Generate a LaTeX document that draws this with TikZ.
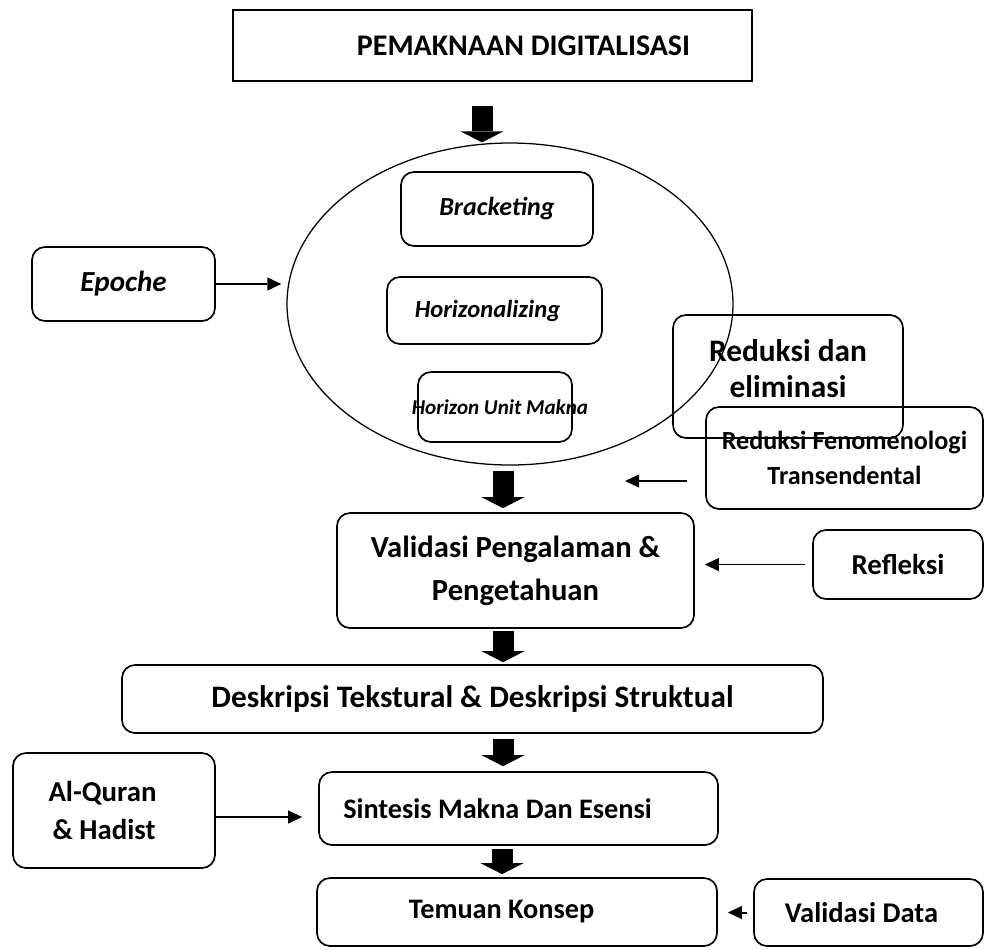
\documentclass[tikz,border=0pt]{standalone}
\usepackage{fontspec}
\setmainfont{Carlito}
\usetikzlibrary{shapes.geometric, arrows.meta, positioning}
\newlength\pxu
\setlength\pxu{0.025cm}

\begin{document}
\begin{tikzpicture}[x=0.025cm, y=-0.025cm,
	every node/.style={inner sep=0pt, font=\bfseries\fontsize{20.5}{30.6}\selectfont},
	box/.style 2 args={draw, line width=1.2pt, rounded corners=0.325cm, minimum width=#1\pxu, minimum height=#2\pxu, align=center},
	sized/.style={font=\bfseries\fontsize{#1}{30.6}\selectfont},
	slanted/.style={font=\bfseries\itshape\fontsize{#1}{22}\selectfont},
	bigarrow/.style={line width=0.525cm, -{Triangle[length=0.275cm, width=1.075cm, line width=0pt]}},
	thinarrow/.style={line width=1.4pt, -{Triangle[length=0.35cm, width=0.33cm, line width=0pt]}}]
	\useasboundingbox (0,0) rectangle (984,949);
	% head and the ring of epoche steps
	\node[draw, line width=1.2pt, minimum width=519\pxu, minimum height=71\pxu, sized=21.3] (top) at (492.5,45.5) {\hspace*{62\pxu}PEMAKNAAN DIGITALISASI};
	\node[draw, ellipse, line width=0.9pt, minimum width=446\pxu, minimum height=322\pxu] (ring) at (510,304) {};
	\node[box={192}{74}, slanted=18.5] (brack) at (497,209) {Bracketing};
	\node[box={215}{67}, slanted=17.5] (horiz) at (494.5,310.5) {Horizonalizing\hspace*{14\pxu}};
	\node[box={154}{70}, slanted=15] (unit) at (495,407) {\makebox[0pt]{\hspace*{10\pxu}Horizon Unit Makna}};
	\node[box={183}{74}, slanted=20.7] (epoche) at (123.5,284) {Epoche};
	\node[box={230}{123}, font=\bfseries\fontsize{22.3}{25}\selectfont] (redel) at (788,376.5) {Reduksi dan\\eliminasi\\[-13.6pt]\mbox{}};
	\node[box={277}{102}, font=\bfseries\fontsize{18.6}{25}\selectfont] (redfen) at (844.5,458) {Reduksi Fenomenologi\\Transendental};
	% main column
	\node[box={357}{115}, sized=21.8] (valid) at (515.5,570.5) {Validasi Pengalaman \&\\Pengetahuan};
	\node[box={170}{69}] (refl) at (898,564.5) {Refleksi};
	\node[box={701}{68}, sized=22.2] (desk) at (472.5,699) {Deskripsi Tekstural \& Deskripsi Struktual};
	\node[box={202}{115}, align=left, font=\bfseries\fontsize{20.5}{27}\selectfont] (alq) at (114,810.5) {Al-Quran\\\hspace*{4\pxu}\& Hadist\hspace*{24\pxu}};
	\node[box={399}{73}, sized=20.1] (sint) at (518.5,808.5) {Sintesis Makna Dan Esensi\hspace*{42\pxu}};
	\node[box={400}{68}, sized=20.1] (temu) at (517,912) {Temuan Konsep\hspace*{31\pxu}};
	\node[box={229}{67}, sized=20.3] (vdata) at (868.5,912.5) {Validasi Data\hspace*{14\pxu}};
	\coordinate (fenTip) at (625,481);
	% block arrows down the middle
	\draw[bigarrow, shorten <=0.6cm] (top.south -| 482,0) -- (ring.north -| 482,0);
	\draw[bigarrow, shorten <=0.125cm, shorten >=0.1cm] (ring.south -| 503,0) -- (valid.north -| 503,0);
	\draw[bigarrow, shorten <=0.05cm, shorten >=0.05cm] (valid.south -| 503,0) -- (desk.north -| 503,0);
	\draw[bigarrow, shorten <=0.125cm, shorten >=0.125cm] (desk.south -| 503,0) -- (sint.north -| 503,0);
	\draw[bigarrow, shorten <=0.075cm, shorten >=0.075cm] (sint.south -| 502,0) -- (temu.north -| 502,0);
	% side inputs
	\draw[thinarrow, shorten >=0.125cm] (epoche.east) -- (ring.west |- epoche.east);
	\draw[thinarrow, shorten <=0.45cm] (redfen.west |- fenTip) -- (fenTip);
	\draw[thinarrow, shorten <=0.175cm, shorten >=0.25cm] (refl.west) -- (valid.east |- refl.west);
	\draw[thinarrow, shorten >=0.4cm] (alq.east |- 0,817) -- (sint.west |- 0,817);
	\draw[thinarrow, shorten <=0.15cm, shorten >=0.25cm] (vdata.west) -- (temu.east |- vdata.west);
\end{tikzpicture}
\end{document}
